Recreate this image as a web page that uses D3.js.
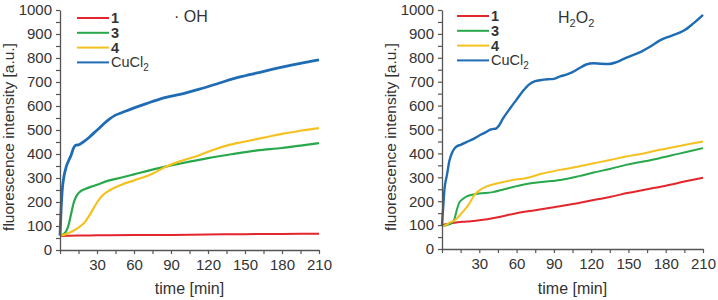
<!DOCTYPE html>
<html>
<head>
<meta charset="utf-8">
<script src="https://cdn.jsdelivr.net/npm/d3@7"></script>
<style>
  body { margin: 0; background: #fff; }
  svg text { font-family: "Liberation Sans", Arial, sans-serif; fill: #333; }
</style>
</head>
<body>
<div id="chart"></div>
<script>
// series as [time (min), intensity (a.u.)]
var ohLine1 = [[0,58],[15,60],[30,61],[60,62],[90,63],[120,65],[150,66],[180,67],[210,68]];
var ohLine3 = [[0,60],[3,66],[5,78],[7,105],[9,150],[11,195],[13,222],[16,242],[20,253],[25,263],[30,272],[40,290],[50,302],[60,315],[75,335],[90,352],[105,368],[120,383],[140,400],[160,415],[180,425],[195,435],[210,445]];
var ohLine4 = [[0,60],[5,66],[10,78],[15,93],[20,115],[24,145],[27,172],[30,198],[34,225],[40,248],[50,272],[60,290],[75,318],[87,350],[100,374],[113,395],[124,417],[135,435],[150,452],[168,471],[180,484],[195,497],[210,508]];
var ohLineCu = [[0,60],[1,180],[2,260],[3,300],[5,346],[7,372],[9,395],[11,425],[13,437],[15,438],[18,447],[24,471],[28,490],[32,508],[36,528],[40,545],[45,562],[50,572],[59,590],[70,610],[85,635],[100,652],[113,670],[130,697],[146,721],[160,738],[181,763],[195,778],[210,792]];

var hpLine1 = [[0,100],[10,110],[20,115],[30,120],[45,133],[60,150],[75,162],[90,175],[105,188],[120,203],[135,218],[150,235],[165,250],[180,265],[195,282],[210,298]];
var hpLine3 = [[0,95],[5,102],[8,110],[10,125],[12,165],[14,195],[17,210],[20,220],[25,228],[30,232],[41,238],[50,250],[60,263],[68,272],[80,280],[95,289],[110,305],[122,320],[135,335],[148,352],[162,366],[175,380],[190,398],[210,422]];
var hpLine4 = [[0,95],[3,100],[6,110],[9,117],[12,128],[15,145],[18,163],[22,190],[26,225],[30,245],[36,262],[45,275],[55,287],[68,297],[80,315],[95,331],[110,345],[122,359],[135,372],[148,387],[162,400],[175,415],[190,430],[210,450]];
var hpLineCu = [[0,100],[1,180],[2,250],[4,310],[6,370],[8,402],[10,420],[12,430],[15,436],[20,448],[25,460],[30,475],[35,488],[39,500],[41,502],[43,503],[46,518],[49,545],[55,590],[60,625],[65,660],[70,688],[75,702],[80,707],[85,710],[90,712],[95,722],[100,730],[105,740],[110,755],[116,772],[122,777],[128,775],[134,774],[140,781],[148,800],[160,825],[168,848],[175,872],[185,893],[195,915],[202,943],[210,980]];

var legendNames = ["1", "3", "4", "CuCl"];
var legendBold = [true, true, true, false];
var seriesColors = ["#e3262b", "#27a84a", "#f5c11f", "#1f6cb5"];
var yTicks = d3.range(0, 1001, 50);
var xTicks = d3.range(0, 211, 15);

var svg = d3.select("#chart").append("svg")
  .attr("width", 718)
  .attr("height", 300);

function drawPanel(opts) {
  var x = d3.scaleLinear().domain([0, 210]).range([opts.left, opts.right]);
  var y = d3.scaleLinear().domain([0, 1000]).range([opts.bottom, opts.top]);
  var g = svg.append("g");

  var line = d3.line()
    .x(d => x(d[0]))
    .y(d => y(d[1]))
    .curve(d3.curveMonotoneX);

  opts.series.forEach(function(s, i) {
    g.append("path")
      .datum(s)
      .attr("fill", "none")
      .attr("stroke", seriesColors[i])
      .attr("stroke-width", opts.widths[i])
      .attr("stroke-linejoin", "round")
      .attr("d", line);
  });

  var ax = g.append("g")
    .attr("transform", "translate(0," + opts.bottom + ")")
    .call(d3.axisBottom(x).tickValues(xTicks).tickSize(4).tickSizeOuter(0).tickPadding(5)
      .tickFormat(d => (d > 0 && d % 30 == 0) ? d : ""));
  var ay = g.append("g")
    .attr("transform", "translate(" + opts.left + ",0)")
    .call(d3.axisLeft(y).tickValues(yTicks).tickSize(4).tickSizeOuter(0).tickPadding(4)
      .tickFormat(d => d % 100 == 0 ? d : ""));
  [ax, ay].forEach(function(a) {
    a.select(".domain").attr("stroke", "#555").attr("stroke-width", 1.3);
    a.selectAll(".tick line").attr("stroke", "#555").attr("stroke-width", 1.2);
    a.selectAll("text").attr("font-size", 15).attr("fill", "#333");
  });

  g.append("text")
    .attr("x", (opts.left + opts.right) / 2)
    .attr("y", 294)
    .attr("text-anchor", "middle")
    .attr("font-size", 16)
    .text("time [min]");
  g.append("text")
    .attr("transform", "translate(" + (opts.left - 46) + ",137) rotate(-90)")
    .attr("text-anchor", "middle")
    .attr("font-size", 15.5)
    .text("fluorescence intensity [a.u.]");

  // legend
  legendNames.forEach(function(name, i) {
    var ly = opts.legendY + i * 14.8;
    g.append("line")
      .attr("x1", opts.legendX).attr("x2", opts.legendX + 32)
      .attr("y1", ly).attr("y2", ly)
      .attr("stroke", seriesColors[i]).attr("stroke-width", 2);
    var t = g.append("text")
      .attr("x", opts.legendX + 34)
      .attr("y", ly + 5)
      .attr("font-size", 14.5)
      .attr("font-weight", legendBold[i] ? "bold" : "normal")
      .text(name);
    if (!legendBold[i]) {
      t.append("tspan").attr("dy", 4).attr("font-size", 10).text("2");
    }
  });

  opts.drawTitle(g);
}

drawPanel({
  left: 60, right: 319, top: 10, bottom: 250,
  series: [ohLine1, ohLine3, ohLine4, ohLineCu],
  widths: [2, 2.2, 2.2, 2.8],
  legendX: 77, legendY: 18,
  drawTitle: function(g) {
    g.append("text").attr("x", 174).attr("y", 22).attr("font-size", 16).text("· OH");
  }
});

drawPanel({
  left: 442, right: 703, top: 10, bottom: 249,
  series: [hpLine1, hpLine3, hpLine4, hpLineCu],
  widths: [2, 2, 2, 2.4],
  legendX: 457, legendY: 16,
  drawTitle: function(g) {
    var t = g.append("text").attr("x", 558).attr("y", 23).attr("font-size", 16);
    t.append("tspan").text("H");
    t.append("tspan").attr("dy", 4).attr("font-size", 11).text("2");
    t.append("tspan").attr("dy", -4).text("O");
    t.append("tspan").attr("dy", 4).attr("font-size", 11).text("2");
  }
});
</script>
</body>
</html>
